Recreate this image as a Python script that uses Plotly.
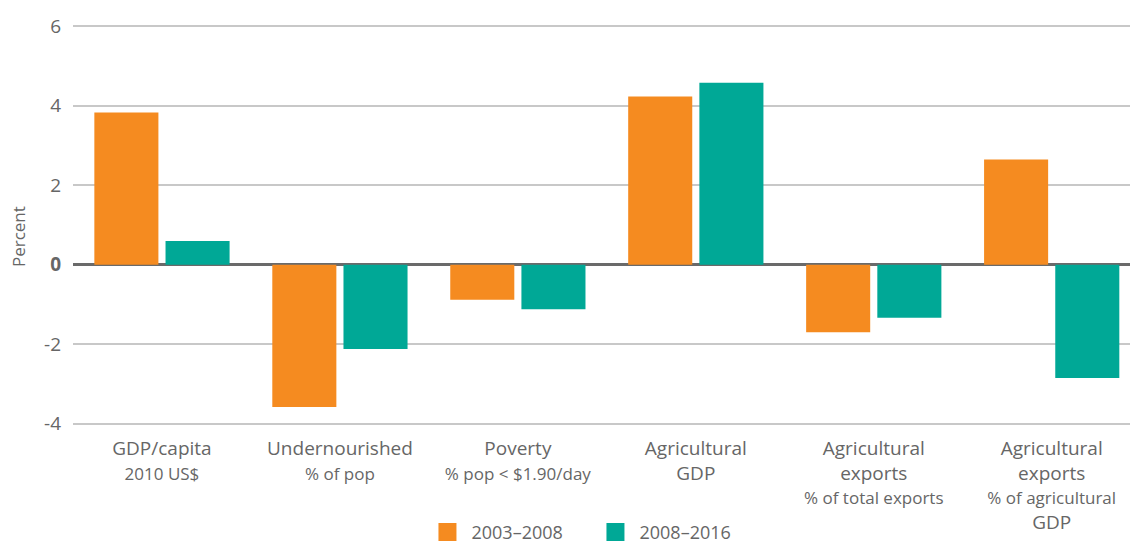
import plotly.graph_objects as go

categories = ["GDP/capita", "Undernourished", "Poverty", "Agricultural GDP",
              "Agricultural exports (total)", "Agricultural exports (agri GDP)"]
SUB = "<span style='font-size:17px'>{}</span>"
tick_labels = [
    "GDP/capita<br>" + SUB.format("2010 US$"),
    "Undernourished<br>" + SUB.format("% of pop"),
    "Poverty<br>" + SUB.format("% pop < $1.90/day"),
    "Agricultural<br>GDP",
    "Agricultural<br>exports<br>" + SUB.format("% of total exports"),
    "Agricultural<br>exports<br>" + SUB.format("% of agricultural") + "<br>GDP",
]
series_names = ["2003–2008", "2008–2016"]
values_2003_2008 = [3.83, -3.58, -0.88, 4.23, -1.70, 2.65]
values_2008_2016 = [0.60, -2.12, -1.12, 4.58, -1.33, -2.85]
y_ticks = [-4, -2, 0, 2, 4, 6]
y_tick_text = ["-4", "-2", "<b>0</b>", "2", "4", "6"]

colors = ["#F58B20", "#00A896"]
font_color = "#666666"
FONT = "'Open Sans', Lato, sans-serif"

x = list(range(len(categories)))
fig = go.Figure()
for name, vals, c in zip(series_names, [values_2003_2008, values_2008_2016], colors):
    fig.add_trace(go.Bar(x=x, y=vals, name=name, marker_color=c,
                         marker_line_width=0, showlegend=False))
for name, c in zip(series_names, colors):
    fig.add_trace(go.Scatter(x=[None], y=[None], mode="markers", name=name,
                             marker=dict(symbol="square", size=16, color=c,
                                         line=dict(width=2, color=c))))

fig.update_layout(
    width=1132, height=544,
    margin=dict(l=73, r=2, t=25, b=119, autoexpand=False),
    paper_bgcolor="white", plot_bgcolor="white",
    font=dict(family=FONT, color=font_color, size=18),
    barmode="group", bargap=0.2, bargroupgap=0.1,
    legend=dict(orientation="h", x=0.4905, xanchor="center", y=-0.268, yanchor="middle",
                font=dict(size=18, color=font_color), itemwidth=38,
                entrywidthmode="pixels", entrywidth=115),
    annotations=[dict(text="Percent", textangle=-90, xref="paper", yref="paper",
                      x=-0.052, y=0.47, xanchor="center", yanchor="middle",
                      showarrow=False, font=dict(size=17, color=font_color))],
)
fig.update_xaxes(range=[-0.5, 5.44], tickmode="array", tickvals=x, ticktext=tick_labels,
                 showgrid=False, zeroline=False, showline=False, ticks="",
                 tickfont=dict(size=19, color=font_color), ticklabelstandoff=10)
fig.update_yaxes(range=[-4.03, 6.03], tickmode="array", tickvals=y_ticks, ticktext=y_tick_text,
                 showgrid=True, gridcolor="#C8C8C8", gridwidth=2,
                 zeroline=True, zerolinecolor="#6A6A6A", zerolinewidth=3,
                 showline=False, ticks="", ticklabelstandoff=11,
                 tickfont=dict(size=19, color=font_color))

fig.write_html("out.html", config={"displayModeBar": False},
               post_script="document.body.style.margin='0';")
